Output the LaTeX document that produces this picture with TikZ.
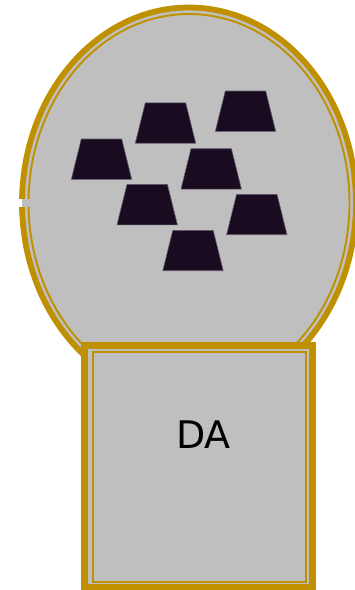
\documentclass[tikz,border=0pt]{standalone}
\usepackage{fontspec}
\setmainfont{DejaVu Sans}
\definecolor{gold}{RGB}{191,144,0}
\definecolor{bulbgray}{RGB}{191,191,191}
\definecolor{ingot}{RGB}{26,12,32}
\definecolor{ingotedge}{RGB}{100,90,110}
\newcommand\ingotat[2]{%
  \filldraw[ingotbar] ({#1-30.2},{#2+20.2}) -- ({#1+30.2},{#2+20.2}) -- ({#1+20.2},{#2-20.2}) -- ({#1-20.2},{#2-20.2}) -- cycle;}
\begin{document}
\begin{tikzpicture}[x=1pt,y=-1pt,
  ingotbar/.style={fill=ingot,draw=ingotedge,line width=0.6pt},
  bandline/.style={draw=gold,line width=5.8pt},
  boxband/.style={draw=gold,line width=7pt},
  thinline/.style={draw=gold,line width=1.9pt}]
\useasboundingbox (0,0) rectangle (355,590);
% bulb
\fill[bulbgray] (189,203) ellipse [x radius=167, y radius=195.5];
\draw[bandline] (189,203) ++(181.2:167 and 195.5)
  arc[start angle=181.2, end angle=538.8, x radius=167, y radius=195.5];
\draw[thinline] (189,203) ++(181.2:160.5 and 189)
  arc[start angle=181.2, end angle=538.8, x radius=160.5, y radius=189];
% ingots
\ingotat{165.5}{123}
\ingotat{245.5}{111.2}
\ingotat{101.5}{159.2}
\ingotat{211.2}{168.9}
\ingotat{147.2}{204.6}
\ingotat{256.8}{214.5}
\ingotat{193}{250.5}
% base box
\fill[bulbgray] (81,342) rectangle (316,592);
\draw[boxband] (84.5,345.5) rectangle (312.5,587.5);
\draw[thinline] (92.7,352.2) rectangle (306,581.7);
\node[inner sep=0pt] (da) at (203.3,434.7) {\fontsize{38}{38}\selectfont DA};
\end{tikzpicture}
\end{document}
